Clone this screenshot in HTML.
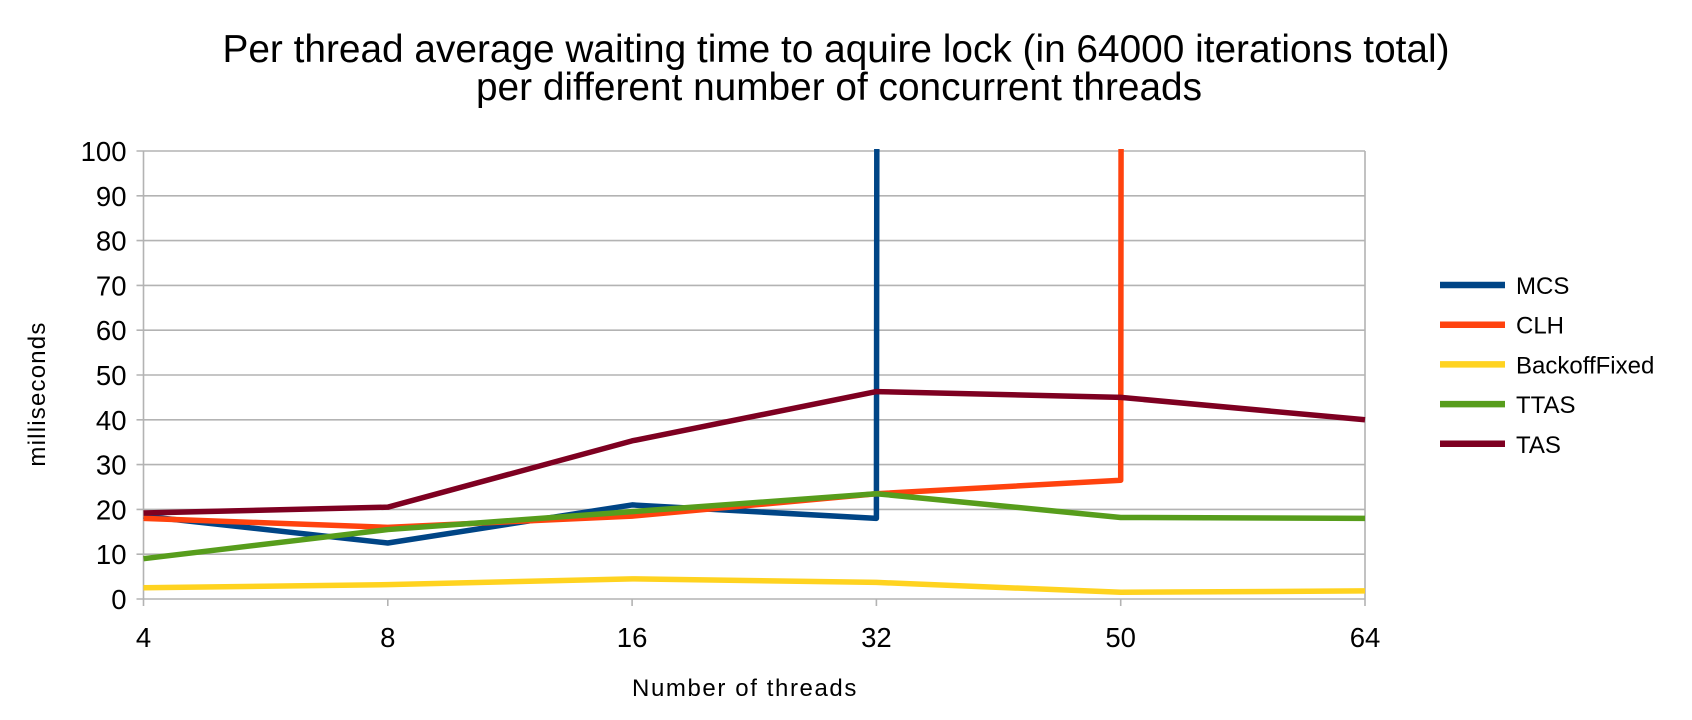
<!DOCTYPE html>
<html><head><meta charset="utf-8"><style>
html,body{margin:0;padding:0;background:#fff;}
svg{display:block;font-family:"Liberation Sans",sans-serif;}
</style></head><body>
<svg id="chart" width="1692" height="720" viewBox="0 0 1692 720">
<rect width="1692" height="720" fill="#fff"/>
<text x="836" y="62" font-size="38.8" text-anchor="middle">Per thread average waiting time to aquire lock (in 64000 iterations total)</text>
<text x="839" y="100" font-size="38.8" text-anchor="middle">per different number of concurrent threads</text>
<g id="grid"></g><g id="series"></g><g id="axes"></g><g id="legend"></g>
<text x="745" y="696" font-size="24" letter-spacing="1.6" text-anchor="middle">Number of threads</text>
<text transform="translate(45,394) rotate(-90)" font-size="24" letter-spacing="1.2" text-anchor="middle">milliseconds</text>
<defs><clipPath id="plotclip"><rect x="140" y="149" width="1230" height="456"/></clipPath></defs>
</svg>
<script>
const categories=["4","8","16","32","50","64"];
const yTicks=[0,10,20,30,40,50,60,70,80,90,100];
const seriesNames=["MCS","CLH","BackoffFixed","TTAS","TAS"];
const mcs=[18.5,12.5,21,18,50000,50000];
const clh=[18,16,18.5,23.5,26.5,50000];
const backoff=[2.5,3.2,4.5,3.7,1.5,1.8];
const ttas=[9,15.5,19.5,23.5,18.2,18];
const tas=[19.2,20.5,35.3,46.3,45,40];
const colors=["#004586","#ff420e","#ffd320","#579d1c","#7e0021"];
const allSeries=[mcs,clh,backoff,ttas,tas];
const NS="http://www.w3.org/2000/svg";
const X0=143.5,X1=1365,Y0=599,Y1=151;
const xs=i=>X0+(X1-X0)*i/(categories.length-1);
const ys=v=>Y0-(Y0-Y1)*v/100;
function mk(t,a,p){const e=document.createElementNS(NS,t);for(const k in a)e.setAttribute(k,a[k]);p.appendChild(e);return e;}
const grid=document.getElementById('grid'),axes=document.getElementById('axes'),ser=document.getElementById('series'),leg=document.getElementById('legend');
yTicks.forEach(v=>{
 const l=mk('line',{x1:X0-7,x2:X1,y1:ys(v),y2:ys(v),stroke:'#b3b3b3','stroke-width':1.6},grid);
 
 
 const t=mk('text',{x:X0-17,y:ys(v)+10,'font-size':27.5,'text-anchor':'end'},axes);t.textContent=v;
 
 
});
categories.forEach((c,i)=>{
 const edge=(i===0||i===categories.length-1);
 const l=mk('line',{x1:xs(i),x2:xs(i),y1:edge?Y1:Y0,y2:Y0+7,stroke:'#b3b3b3','stroke-width':1.6},grid);
 
 
 const t=mk('text',{x:xs(i),y:Y0+48,'font-size':27.5,'text-anchor':'middle'},axes);t.textContent=c;
 
 
});
allSeries.forEach((s,k)=>{
 const pts=s.map((v,i)=>xs(i)+','+ys(v)).join(' ');
 const p=mk('polyline',{points:pts,fill:'none',stroke:colors[k],'stroke-width':5.5,'stroke-linejoin':'round','clip-path':'url(#plotclip)'},ser);
 
 
 const ly=285+k*39.7;
 const ll=mk('line',{x1:1440,x2:1505,y1:ly,y2:ly,stroke:colors[k],'stroke-width':6.5},leg);
 
 
 const lt=mk('text',{x:1516,y:ly+9,'font-size':24},leg);lt.textContent=seriesNames[k];
 
 
});
</script>
</body></html>
